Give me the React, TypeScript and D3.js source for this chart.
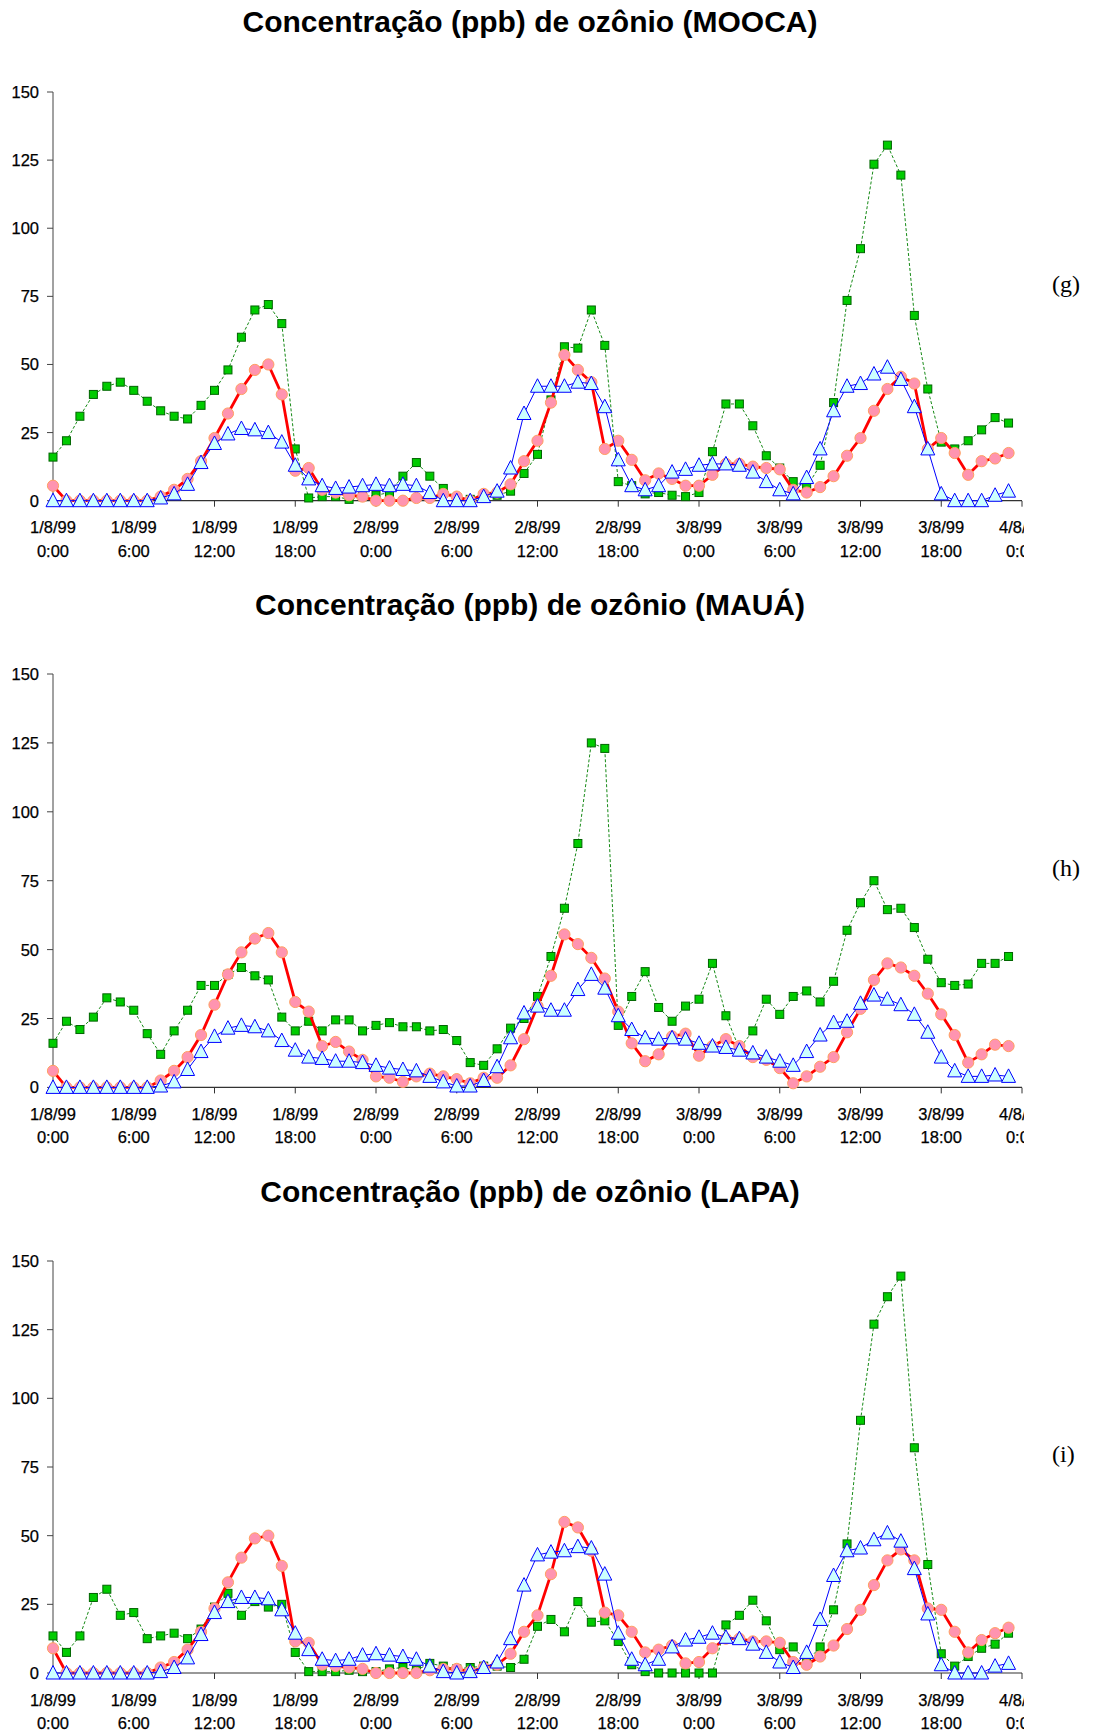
import React from "react";
import * as d3 from "d3";

// hourly samples, 1/8/99 0:00 .. 3/8/99 23:00
const hours = d3.range(72);

const tickHours = [0, 6, 12, 18, 24, 30, 36, 42, 48, 54, 60, 66, 72];
const tickDates = ["1/8/99", "1/8/99", "1/8/99", "1/8/99", "2/8/99", "2/8/99", "2/8/99", "2/8/99", "3/8/99", "3/8/99", "3/8/99", "3/8/99", "4/8/99"];
const tickTimes = ["0:00", "6:00", "12:00", "18:00", "0:00", "6:00", "12:00", "18:00", "0:00", "6:00", "12:00", "18:00", "0:00"];
const yTicks = [0, 25, 50, 75, 100, 125, 150];

// MOOCA
const moocaGreen = [16, 22, 31, 39, 42, 43.5, 40.5, 36.5, 33, 31, 30, 35, 40.5, 48, 60, 70, 72, 65, 19, 1, 1.5, 1.5, 0.5, 1.5, 2, 3, 9, 14, 9, 4.5, 1, 0.5, 1, 2, 3.5, 10, 17, 37, 56.5, 56, 70, 57, 7, 5.5, 2.5, 3, 2, 1.5, 3, 18, 35.5, 35.5, 27.5, 16.5, 12, 7, 5, 13, 36, 73.5, 92.5, 123.5, 130.5, 119.5, 68, 41, 21.5, 19, 22, 26, 30.5, 28.5];
const moocaRed = [5.5, 0, 0, 0, 0, 0, 0, 0, 1.5, 4, 8, 14.5, 23, 32, 41, 48, 50, 39, 11, 12, 4, 3, 2, 1.5, 0, 0, 0, 1, 1, 2.5, 1.5, 0, 2.5, 3, 6, 14.5, 22, 36, 53.5, 48, 43.5, 19, 22, 15, 7.5, 10, 8, 5.5, 5.5, 9.5, 13.5, 13.5, 12.5, 12, 11.5, 4, 3, 5, 9, 16.5, 23, 33, 41, 45.5, 43, 19, 23, 17.5, 9.5, 14.5, 15.5, 17.5];
const moocaBlue = [0, 0, 0, 0, 0, 0, 0, 0, 1, 2.5, 6, 14, 21, 24.5, 26.5, 26, 25, 21.5, 13, 8, 5.5, 4.5, 5, 5.5, 6, 5.5, 6, 5.5, 3, 0, 0, 0, 1.5, 3.5, 12, 32, 42, 42, 42, 43.5, 43, 34.5, 15, 5.5, 4, 5.5, 10.5, 11.5, 13, 13.5, 13.5, 13, 10.5, 7, 4, 2.5, 8.5, 19, 33, 42, 43, 46.5, 49, 44.5, 34.5, 19, 2.5, 0, 0, 0, 2, 3.5];

// MAUÁ
const mauaGreen = [16, 24, 21, 25.5, 32.5, 31, 28, 19.5, 12, 20.5, 28, 37, 37, 41, 43.5, 40.5, 39, 25.5, 20.5, 24, 20.5, 24.5, 24.5, 20.5, 22.5, 23.5, 22, 22, 20.5, 21, 17, 9, 8, 14, 21.5, 25, 33, 47.5, 65, 88.5, 125, 123, 22.5, 33, 42, 29, 24, 29.5, 32, 45, 26, 14, 20.5, 32, 26.5, 33, 35, 31, 38.5, 57, 67, 75, 64.5, 65, 58, 46.5, 38, 37, 37.5, 45, 45, 47.5];
const mauaRed = [6, 0, 0, 0, 0, 0, 0, 0, 2.5, 6, 11, 19, 30, 41, 49, 54, 56, 49, 31, 27.5, 15, 16.5, 13, 10, 4, 3.5, 2, 4, 5, 4, 3, 1.5, 3.5, 3.5, 8, 17.5, 29.5, 40.5, 55.5, 52, 47, 39.5, 27.5, 16, 9.5, 12, 18.5, 19.5, 11.5, 15, 17.5, 15, 11, 10, 7, 1.5, 4, 7.5, 11, 20, 28.5, 39, 45, 43.5, 40.5, 34, 26.5, 19, 9, 12, 15.5, 15];
const mauaBlue = [0, 0, 0, 0, 0, 0, 0, 0, 0.5, 2, 6.5, 13, 18.5, 21.5, 22.5, 22, 20.5, 17, 13.5, 11, 10.5, 9.5, 9.5, 9, 8, 7, 6.5, 6, 4, 2, 0.5, 0.5, 2.5, 7.5, 18, 27, 29.5, 28, 28, 35.5, 41, 36, 26, 21, 18, 17.5, 18, 17.5, 16, 15, 14.5, 13.5, 12.5, 11, 9.5, 8, 13, 19, 23.5, 24, 30.5, 33.5, 32, 30, 26.5, 20, 11, 6, 4, 4, 4.5, 4];

// LAPA
const lapaGreen = [13.5, 7.5, 13.5, 27.5, 30.5, 21, 22, 12.5, 13.5, 14.5, 12.5, 16, 24, 29, 21, 26, 24, 25, 7.5, 0.5, 0.5, 0.5, 1, 0.5, 0.5, 1.5, 2, 1, 3.5, 2.5, 1.5, 2, 2.5, 2.5, 2, 5, 17, 19.5, 15, 26, 18.5, 19, 11.5, 3, 0.5, 0, 0, 0, 0, 0, 17.5, 21, 26.5, 19, 8.5, 9.5, 4, 9.5, 23, 47, 92, 127, 137, 144.5, 82, 39.5, 7, 2.5, 6, 9, 10.5, 14.5];
const lapaRed = [9, 0, 0, 0, 0, 0, 0, 0, 2, 4, 8.5, 15, 23.5, 33, 42, 49, 50, 39, 11.5, 11, 3, 2.5, 2, 1.5, 0, 0, 0, 0, 1, 1.5, 1.5, 0.5, 2, 3, 7, 15, 21, 36, 55, 53, 44.5, 22, 21, 15, 7.5, 8.5, 10, 3.5, 4, 9, 12.5, 12.5, 11.5, 11.5, 11, 4, 3, 6, 10, 16, 23, 32, 41, 45, 41, 23.5, 23, 15, 7.5, 12, 14.5, 16.5];
const lapaBlue = [0, 0, 0, 0, 0, 0, 0, 0, 0.5, 2, 5.5, 14, 22, 26, 27.5, 27.5, 27, 23, 14.5, 8.5, 5, 4.5, 5, 6.5, 7, 6.5, 6, 5, 2.5, 0.5, 0, 0.5, 2, 4, 12.5, 32, 43, 44, 44.5, 46, 45.5, 36, 14.5, 5, 3, 5, 9.5, 12, 13, 14.5, 13, 12.5, 10.5, 7.5, 4, 2, 7.5, 19.5, 35.5, 44.5, 45.5, 48.5, 51, 48, 38, 21.5, 3, 0, 0, 0, 2.5, 3.5];

const panels = [
  { title: "Concentração (ppb) de ozônio (MOOCA)", tag: "(g)", green: moocaGreen, red: moocaRed, blue: moocaBlue, titleY: 32, top: 92, bottom: 500.7, tagY: 292 },
  { title: "Concentração (ppb) de ozônio (MAUÁ)", tag: "(h)", green: mauaGreen, red: mauaRed, blue: mauaBlue, titleY: 615, top: 674, bottom: 1087.4, tagY: 876 },
  { title: "Concentração (ppb) de ozônio (LAPA)", tag: "(i)", green: lapaGreen, red: lapaRed, blue: lapaBlue, titleY: 1202, top: 1261, bottom: 1673, tagY: 1462 },
];

const W = 1095;
const H = 1733;
const left = 53;
const right = 1022;
const font = "'Liberation Sans', Arial, sans-serif";

const x = d3.scaleLinear().domain([0, 72]).range([left, right]);

function Panel({ p, idx }) {
  const y = d3.scaleLinear().domain([0, 150]).range([p.bottom, p.top]);
  const line = d3
    .line<number>()
    .x((_, i) => x(hours[i]))
    .y((d) => y(d));
  const clipId = "clip" + idx;

  return (
    <g>
      <text x={530} y={p.titleY} textAnchor="middle" fontFamily={font} fontWeight="bold" fontSize={30}>
        {p.title}
      </text>
      <text x={1052} y={p.tagY} fontFamily="'Liberation Serif', 'Times New Roman', serif" fontSize={24}>
        {p.tag}
      </text>

      {/* axes */}
      <line x1={left} x2={left} y1={p.top} y2={p.bottom} stroke="#444" strokeWidth={1} />
      <line x1={left} x2={right} y1={p.bottom} y2={p.bottom} stroke="#333" strokeWidth={1.2} />
      {yTicks.map((t) => (
        <g key={t}>
          <line x1={left - 6} x2={left} y1={y(t)} y2={y(t)} stroke="#444" />
          <text x={39} y={y(t)} textAnchor="end" dominantBaseline="central" fontFamily={font} fontSize={16.5} stroke="#000" strokeWidth={0.25}>
            {t}
          </text>
        </g>
      ))}
      <clipPath id={clipId}>
        <rect x={0} y={p.bottom} width={1024} height={80} />
      </clipPath>
      <g clipPath={`url(#${clipId})`} fontFamily={font} fontSize={16.5} stroke="#000" strokeWidth={0.25}>
        {tickHours.map((h, i) => (
          <g key={h}>
            <line x1={x(h)} x2={x(h)} y1={p.bottom} y2={p.bottom + 6} stroke="#333" strokeWidth={1} />
            <text x={x(h)} y={p.bottom + 32.5} textAnchor="middle">
              {tickDates[i]}
            </text>
            <text x={x(h)} y={p.bottom + 56} textAnchor="middle">
              {tickTimes[i]}
            </text>
          </g>
        ))}
      </g>

      {/* green squares, dashed */}
      <path d={line(p.green) || ""} fill="none" stroke="#168a16" strokeWidth={1} strokeDasharray="3,2" />
      {p.green.map((v, i) => (
        <rect key={i} x={x(hours[i]) - 4} y={y(v) - 4} width={8} height={8} fill="#00cc00" stroke="#006400" strokeWidth={1} />
      ))}

      {/* red circles */}
      <path d={line(p.red) || ""} fill="none" stroke="#ff0000" strokeWidth={2.8} />
      {p.red.map((v, i) => (
        <circle key={i} cx={x(hours[i])} cy={y(v)} r={5.6} fill="#ff94b0" stroke="#ffa060" strokeWidth={1} />
      ))}

      {/* blue triangles */}
      <path d={line(p.blue) || ""} fill="none" stroke="#0000ff" strokeWidth={1} />
      {p.blue.map((v, i) => (
        <path
          key={i}
          transform={`translate(${x(hours[i])},${y(v)})`}
          d="M0,-7.5L7,6L-7,6Z"
          fill="#ccffff"
          stroke="#0000ff"
          strokeWidth={1}
        />
      ))}
    </g>
  );
}

export default function App() {
  return (
    <svg width={W} height={H} style={{ position: "absolute", left: 0, top: 0, background: "#fff" }}>
      <rect width={W} height={H} fill="#fff" />
      {panels.map((p, i) => (
        <Panel key={i} p={p} idx={i} />
      ))}
    </svg>
  );
}
